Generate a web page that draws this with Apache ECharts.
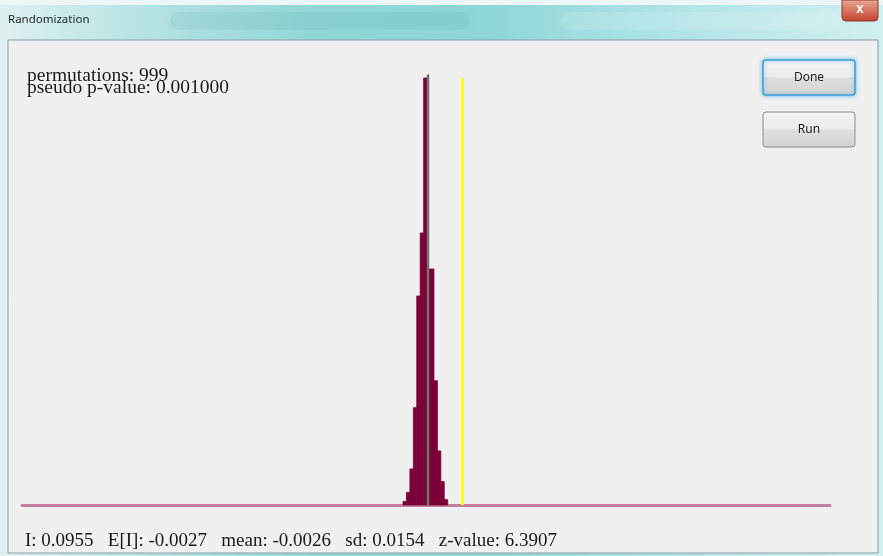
<!DOCTYPE html>
<html><head><meta charset="utf-8">
<script src="https://cdn.jsdelivr.net/npm/echarts@6/dist/echarts.min.js"></script>
<style>html,body{margin:0;padding:0;background:#f0f0f0}#c{width:883px;height:556px}</style>
</head><body><div id="c"></div>
<script>
// Histogram of permuted Moran's I values (bin low edge, bin high edge, count)
const binLow  = [-0.0737, -0.0639, -0.0541, -0.0444, -0.0346, -0.0248, -0.0150, -0.0052, 0.0045, 0.0143, 0.0241, 0.0339, 0.0436];
const binHigh = [-0.0639, -0.0541, -0.0444, -0.0346, -0.0248, -0.0150, -0.0052, 0.0045, 0.0143, 0.0241, 0.0339, 0.0436, 0.0534];
const counts  = [2, 7, 20, 54, 116, 151, 237, 131, 131, 69, 30, 13, 3];
const observedI = 0.0955;
const meanI = -0.0026;
const infoLines = ['permutations: 999', 'pseudo p-value: 0.001000'];
const statsLine = 'I: 0.0955   E[I]: -0.0027   mean: -0.0026   sd: 0.0154   z-value: 6.3907';
const windowTitle = 'Randomization';
const buttonLabels = ['Done', 'Run'];

const histData = binLow.map((lo, i) => [lo, binHigh[i], counts[i]]);

const chart = echarts.init(document.getElementById('c'), null, {renderer: 'canvas'});
const serif = '"Liberation Serif", "DejaVu Serif", serif';
const ui = '"Noto Sans", "DejaVu Sans", sans-serif';
const btnFill = () => new echarts.graphic.LinearGradient(0, 0, 0, 1, [
  {offset: 0, color: '#f4f4f4'}, {offset: 0.48, color: '#ececec'},
  {offset: 0.52, color: '#dedede'}, {offset: 1, color: '#d4d4d4'}]);

chart.setOption({
  backgroundColor: '#f0f0f0',
  animation: false,
  grid: {left: 22, right: 53, top: 60, bottom: 51},
  xAxis: {
    type: 'value', min: -1.157, max: 1.1404,
    axisLine: {show: true, lineStyle: {color: '#c67f9e', width: 3}},
    axisTick: {show: false}, axisLabel: {show: false}, splitLine: {show: false}
  },
  yAxis: {type: 'value', min: 0, max: 247, show: false, splitLine: {show: false}},
  graphic: [
    // window frame / title bar
    {type: 'rect', z: -10, shape: {x: 0, y: 0, width: 883, height: 556},
     style: {fill: new echarts.graphic.LinearGradient(0, 0, 1, 0, [
       {offset: 0, color: '#dff0f0'}, {offset: 0.15, color: '#b9e4e4'},
       {offset: 0.35, color: '#93d8d8'}, {offset: 0.55, color: '#8fd6d7'},
       {offset: 0.75, color: '#ade3e5'}, {offset: 1, color: '#d2eff0'}])}, silent: true},
    {type: 'rect', z: -9, shape: {x: 0, y: 0, width: 883, height: 5}, style: {fill: '#eef7f7'}, silent: true},
    {type: 'rect', z: -9, shape: {x: 170, y: 12, width: 300, height: 18, r: 9},
     style: {fill: 'rgba(70,150,150,0.10)', shadowBlur: 16, shadowColor: 'rgba(70,150,150,0.35)'}, silent: true},
    {type: 'rect', z: -9, shape: {x: 560, y: 12, width: 280, height: 18, r: 9},
     style: {fill: 'rgba(255,255,255,0.12)', shadowBlur: 16, shadowColor: 'rgba(255,255,255,0.3)'}, silent: true},
    {type: 'rect', z: -9, shape: {x: 842, y: 0, width: 36, height: 21, r: [0, 0, 4, 4]},
     style: {fill: new echarts.graphic.LinearGradient(0, 0, 0, 1, [
       {offset: 0, color: '#eaa891'}, {offset: 1, color: '#c4412c'}]), stroke: '#8a3a2e', lineWidth: 1}, silent: true},
    {type: 'text', z: 5, style: {text: 'X', x: 860, y: 10, fill: '#ffffff', font: 'bold 11px ' + ui, align: 'center', verticalAlign: 'middle'}, silent: true},
    {type: 'text', z: 5, style: {text: windowTitle, x: 8, y: 20, fill: '#1a2424', font: '11.5px ' + ui, verticalAlign: 'middle'}, silent: true},
    // client area
    {type: 'rect', z: -8, shape: {x: 8, y: 40, width: 870, height: 513},
     style: {fill: '#f0f0f0', stroke: '#8a9ca2', lineWidth: 1}, silent: true},
    // info text
    {type: 'text', z: 5, style: {text: infoLines[0], x: 27, y: 66, fill: '#1a1a1a', font: '19.5px ' + serif, verticalAlign: 'top'}, silent: true},
    {type: 'text', z: 5, style: {text: infoLines[1], x: 27, y: 78, fill: '#1a1a1a', font: '19.5px ' + serif, verticalAlign: 'top'}, silent: true},
    {type: 'text', z: 5, style: {text: statsLine, x: 25, y: 532, fill: '#1a1a1a', font: '19px ' + serif, verticalAlign: 'top'}, silent: true},
    // buttons
    {type: 'rect', z: 4, shape: {x: 763, y: 60, width: 92, height: 35, r: 3},
     style: {fill: btnFill(), stroke: '#3a9fd6', lineWidth: 1.5, shadowBlur: 4, shadowColor: 'rgba(80,180,230,0.8)'}, silent: true},
    {type: 'text', z: 5, style: {text: buttonLabels[0], x: 809, y: 78, fill: '#222', font: '12px ' + ui, align: 'center', verticalAlign: 'middle'}, silent: true},
    {type: 'rect', z: 4, shape: {x: 763, y: 112, width: 92, height: 35, r: 3},
     style: {fill: btnFill(), stroke: '#8c8c8c', lineWidth: 1}, silent: true},
    {type: 'text', z: 5, style: {text: buttonLabels[1], x: 809, y: 130, fill: '#222', font: '12px ' + ui, align: 'center', verticalAlign: 'middle'}, silent: true}
  ],
  series: [
    {
      type: 'custom', z: 2,
      data: histData,
      encode: {x: [0, 1], y: 2},
      renderItem: function (params, api) {
        const lo = api.value(0), hi = api.value(1), c = api.value(2);
        const p0 = api.coord([lo, 0]);
        const p1 = api.coord([hi, c]);
        return {type: 'rect', shape: {x: p0[0], y: p1[1], width: p1[0] - p0[0], height: p0[1] - p1[1]},
                style: {fill: '#7c0038', stroke: '#7c0038', lineWidth: 0.8}};
      }
    },
    {
      type: 'line', z: 3, showSymbol: false, silent: true,
      data: [[meanI, 0], [meanI, 239]],
      lineStyle: {color: '#707070', width: 2.5}
    },
    {
      type: 'line', z: 3, showSymbol: false, silent: true,
      data: [[observedI, 0], [observedI, 237]],
      lineStyle: {color: '#ffff00', width: 3}
    }
  ]
});
</script></body></html>
